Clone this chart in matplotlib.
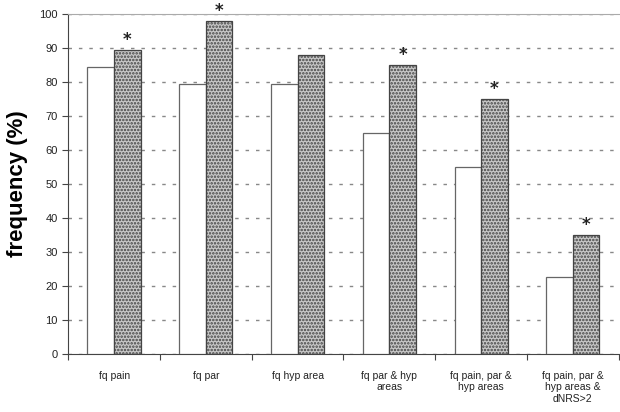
import numpy as np
import matplotlib.pyplot as plt

plt.rcParams['hatch.linewidth'] = 1.2
plt.rcParams['font.family'] = ['Liberation Sans', 'DejaVu Sans']

categories = ["fq pain", "fq par", "fq hyp area", "fq par & hyp\nareas",
              "fq pain, par &\nhyp areas", "fq pain, par &\nhyp areas &\ndNRS>2"]
white_vals = [84.5, 79.5, 79.5, 65, 55, 22.5]
dotted_vals = [89.5, 98, 88, 85, 75, 35]
starred = [True, True, False, True, True, True]

fig = plt.figure(figsize=(6.2, 4.12), dpi=100)
ax = fig.add_axes([0.11, 0.141, 0.888, 0.825])

x = np.arange(len(categories)) + 0.5
w = 0.29
ax.bar(x - w / 2, white_vals, w, color='white', edgecolor='#666666', linewidth=0.9, zorder=3)
ax.bar(x + w / 2, dotted_vals, w, color='#c8c8c8', edgecolor='#444444', hatch='.....',
       linewidth=0.9, zorder=3)

for xi, v, s in zip(x, dotted_vals, starred):
    if s:
        ax.text(xi + w / 2, v + 3, '*', ha='center', va='center', fontsize=12,
                fontweight='bold', color='#222222', family='DejaVu Sans')

ax.set_xlim(0, len(categories))
ax.set_ylim(0, 100)
ax.set_yticks(np.arange(0, 101, 10))
ax.set_xticks(np.arange(len(categories) + 1))
ax.set_xticklabels([])
ax.set_xticks(x, minor=True)
ax.set_xticklabels(categories, minor=True, fontsize=7.5, color='#222222')
ax.tick_params(axis='x', which='minor', length=0, pad=12)
ax.tick_params(axis='x', which='major', length=4, direction='out', color='#444444')
ax.tick_params(axis='y', labelsize=8, length=4, color='#444444', labelcolor='#222222')

ax.yaxis.grid(True, linestyle=(0, (2.5, 5)), color='#888888', linewidth=1.0, zorder=0)
ax.spines['top'].set_color('#aaaaaa')
ax.spines['right'].set_visible(False)
ax.spines['left'].set_color('#444444')
ax.spines['bottom'].set_color('#444444')

ax.set_ylabel('frequency (%)', fontsize=16, fontweight='bold', labelpad=8)

fig.savefig('out.png', dpi=100)
